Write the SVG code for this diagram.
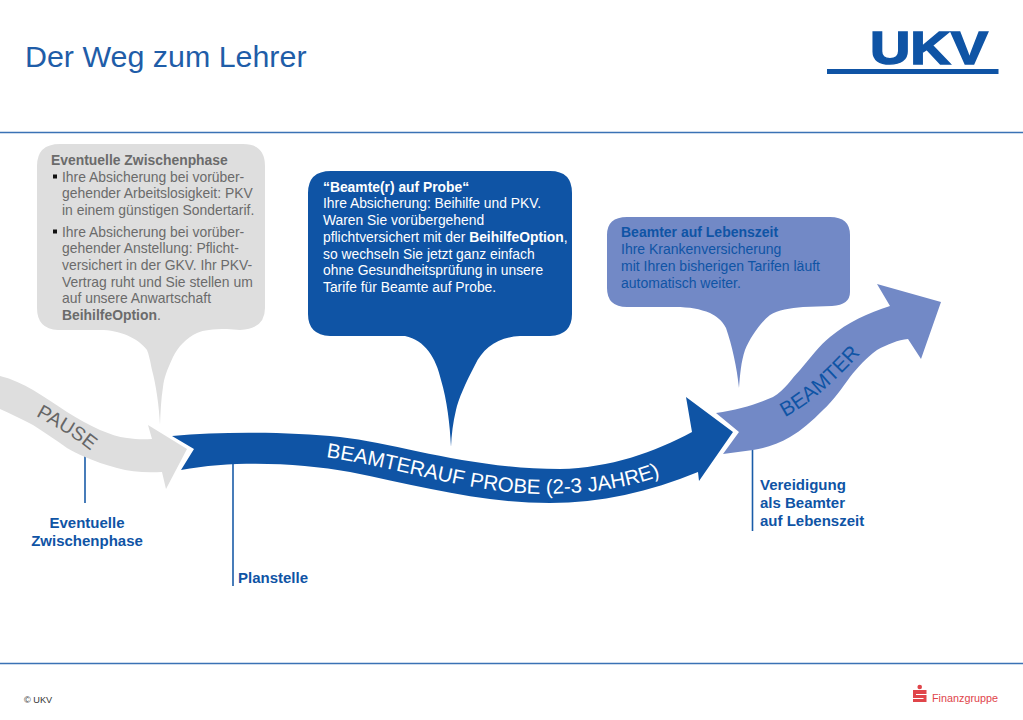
<svg xmlns="http://www.w3.org/2000/svg" width="1023" height="720" viewBox="0 0 1023 720">
<style>
text{font-family:"Liberation Sans",Arial,sans-serif}
.g{fill:#6b6b6b;font-size:13.900px}
.d{fill:#fff;font-size:13.850px}
.l{fill:#0f54a5;font-size:14px}
.b{font-weight:bold}
.lab{fill:#0f54a5;font-size:15px;font-weight:bold}
.rule{stroke:#3a72b5;stroke-width:1.3;fill:none}
.tick{stroke:#1a5ca8;stroke-width:1.6;fill:none}
</style>
<defs>
<path id="pPause" d="M36 416 C52 425 76 438 92 452"/>
<path id="pProbe" d="M326 457 C400 468 470 493 540 494 C585 494 632 488 664 474"/>
<path id="pBeamter" d="M785 417 C812 403 838 378 860 354"/>
</defs>
<rect width="1023" height="720" fill="#fff"/>
<g id="header">
<text x="25" y="67" font-size="30.400" fill="#1f5da8">Der Weg zum Lehrer</text>
<line class="rule" x1="0" y1="132.500" x2="1023" y2="132.500"/>
<line class="rule" x1="0" y1="663.500" x2="1023" y2="663.500"/>
</g>
<g id="logo-ukv">
<text x="870" y="63.500" font-size="47" font-weight="bold" fill="#0f54a5" stroke="#0f54a5" stroke-width="1.500" textLength="118" lengthAdjust="spacingAndGlyphs">UKV</text>
<rect x="827" y="69" width="171.500" height="5" fill="#0f54a5"/>
</g>
<g id="connectors">
<line class="tick" x1="85" y1="456" x2="85" y2="503"/>
<line class="tick" x1="233" y1="434" x2="233" y2="586"/>
<line class="tick" x1="752.500" y1="450" x2="752.500" y2="531"/>
</g>
<g id="arrow-pause">
<path fill="#dedede" d="M0 376 C12 379 23 384 33 390 C45 397 56 405 67 412 C78 419 89 425 100 430 C110 434 118 437 127 438 C136 439.500 144 439.500 152 439 L148 425 L187 449 L166 489 L162 472 C146 473 131 472 117 468 C105 465 95 461 85 457 C78 454 72 451 67 448 C56 440 44 432 33 425 C22 419 11 414 0 409 Z"/>
<text font-size="19.500" fill="#666"><textPath href="#pPause">PAUSE</textPath></text>
</g>
<g id="arrow-probe">
<path fill="#0f54a5" d="M172 436 C225 431 290 432 340 437 C400 444 470 469 560 469 C610 468 655 452 692 432 L686 397 L733 432 L699 481 L698 472 C650 492 600 503 550 503 C480 503 420 486 350 472 C300 463 235 460 181 470 L194 449 Z"/>
<text font-size="20.500" fill="#fff"><textPath href="#pProbe">BEAMTERAUF PROBE (2-3 JAHRE)</textPath></text>
</g>
<g id="arrow-beamter">
<path fill="#7289c6" d="M716 413 C738 410 755 405 773 397 C785 390 792 378 800 370 C810 358 820 345 830 337 C848 322 868 313 890 306 L877 284 L941 302 L921 359 L908 339 C898 340 888 344 877 350 C866 358 858 367 850 377 C842 388 833 401 823 410 C812 421 802 430 790 437 C778 444 765 448 753 450 L723 454 L739 432 Z"/>
<text font-size="20.500" fill="#0f54a5"><textPath href="#pBeamter">BEAMTER</textPath></text>
</g>
<g id="callout-pause">
<path fill="#dedede" d="M60 144 H243 Q265 144 265 166 V308 Q265 329 240 330 L227 329 C212 329 204 330 197 333 C186 338 178 347 173 357 C167 370 164 378 163 387 C161 400 160.500 412 160 425 C159 405 156 385 152 370 C150 360 149 355 147 350 C138 338 120 330 100 330 H58 Q37 329 37 308 V166 Q37 144 60 144 Z"/>
<text class="g b" x="51" y="165">Eventuelle Zwischenphase</text>
<rect x="53" y="174.500" width="4" height="4" fill="#111"/>
<rect x="53" y="229.500" width="4" height="4" fill="#111"/>
<text class="g" x="62" y="182">Ihre Absicherung bei vorüber-</text>
<text class="g" x="62" y="198">gehender Arbeitslosigkeit: PKV</text>
<text class="g" x="62" y="215">in einem günstigen Sondertarif.</text>
<text class="g" x="62" y="237">Ihre Absicherung bei vorüber-</text>
<text class="g" x="62" y="253">gehender Anstellung: Pflicht-</text>
<text class="g" x="62" y="270">versichert in der GKV. Ihr PKV-</text>
<text class="g" x="62" y="287">Vertrag ruht und Sie stellen um</text>
<text class="g" x="62" y="303">auf unsere Anwartschaft</text>
<text class="g" x="62" y="320"><tspan class="b">BeihilfeOption</tspan>.</text>
</g>
<g id="callout-probe">
<path fill="#0f54a5" d="M331 171 H550 Q572 171 572 193 V314 Q572 335 550 336 H520 C498 337 483 348 475 365 C466 382 458 400 456 410 C453 422 451.500 435 451 447 C450 425 447 400 441 380 C436 358 425 340 405 336 H330 Q308 335 308 314 V193 Q308 171 331 171 Z"/>
<text class="d b" x="323" y="192">“Beamte(r) auf Probe“</text>
<text class="d" x="323" y="208">Ihre Absicherung: Beihilfe und PKV.</text>
<text class="d" x="323" y="225">Waren Sie vorübergehend</text>
<text class="d" x="323" y="242">pflichtversichert mit der <tspan class="b">BeihilfeOption</tspan>,</text>
<text class="d" x="323" y="259">so wechseln Sie jetzt ganz einfach</text>
<text class="d" x="323" y="275">ohne Gesundheitsprüfung in unsere</text>
<text class="d" x="323" y="292">Tarife für Beamte auf Probe.</text>
</g>
<g id="callout-beamter">
<path fill="#7289c6" d="M627 217 H830 Q850 217 850 235 V292 Q850 305 832 306 L803 307 C790 308 778 310 770 315 C760 323 750 338 745 350 C741 362 740 375 739 388 C737 368 732 345 726 328 C722 320 716 316 710 313 C700 309 690 307 675 307 H627 Q607 307 607 288 V235 Q607 217 627 217 Z"/>
<text class="l b" x="621" y="237">Beamter auf Lebenszeit</text>
<text class="l" x="621" y="254">Ihre Krankenversicherung</text>
<text class="l" x="621" y="271">mit Ihren bisherigen Tarifen läuft</text>
<text class="l" x="621" y="288">automatisch weiter.</text>
</g>
<g id="label-zwischenphase">
<text class="lab" x="87" y="528" text-anchor="middle">Eventuelle</text>
<text class="lab" x="87" y="546" text-anchor="middle">Zwischenphase</text>
</g>
<g id="label-planstelle"><text class="lab" x="238" y="583">Planstelle</text></g>
<g id="label-vereidigung">
<text class="lab" x="760" y="490">Vereidigung</text>
<text class="lab" x="760" y="508">als Beamter</text>
<text class="lab" x="760" y="526">auf Lebenszeit</text>
</g>
<g id="footer">
<text x="24" y="703" font-size="9.200" fill="#333">© UKV</text>
<circle cx="919.700" cy="687" r="2.300" fill="#e0454a"/>
<path fill="#e0454a" d="M913 690 H926.500 V694 H916 V695 H926.500 V702 H913 V699 H923.500 V698 H913 Z"/>
<text x="932" y="702" font-size="11.500" fill="#e0454a" textLength="66" lengthAdjust="spacingAndGlyphs">Finanzgruppe</text>
</g>
</svg>
